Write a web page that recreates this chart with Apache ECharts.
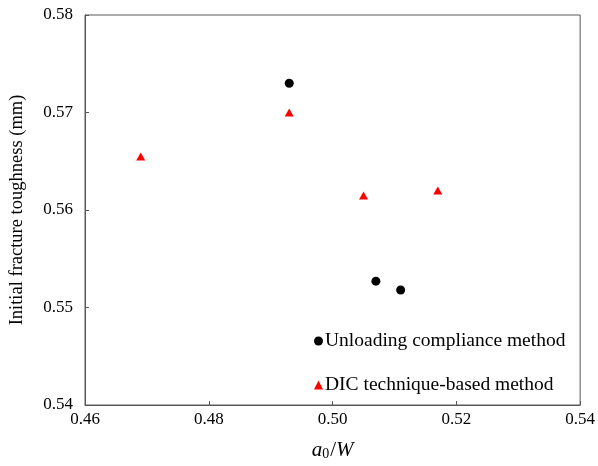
<!DOCTYPE html>
<html>
<head>
<meta charset="utf-8">
<script src="https://cdn.jsdelivr.net/npm/echarts@6/dist/echarts.min.js"></script>
<style>html,body{margin:0;padding:0;background:#fff}#c{width:598px;height:466px}</style>
</head>
<body>
<div id="c"></div>
<script>
// Data
var unloadingX = [0.493, 0.507, 0.511];
var unloadingY = [0.573, 0.5527, 0.5518];
var dicX = [0.469, 0.493, 0.505, 0.517];
var dicY = [0.5655, 0.570, 0.5615, 0.562];
var xTicks = [0.46, 0.48, 0.50, 0.52, 0.54];
var yTicks = [0.54, 0.55, 0.56, 0.57, 0.58];
var seriesNames = ['Unloading compliance method', 'DIC technique-based method'];
var yTitle = 'Initial fracture toughness (mm)';

function pairs(xs, ys) { return xs.map(function (x, i) { return [x, ys[i]]; }); }

var FONT = '"Liberation Serif", "Times New Roman", serif';
var chart = echarts.init(document.getElementById('c'));
chart.setOption({
  animation: false,
  backgroundColor: '#fff',
  textStyle: { fontFamily: FONT },
  grid: { left: 84, right: 15, top: 15, bottom: 61, show: true, borderColor: '#595959', borderWidth: 1, backgroundColor: 'transparent' },
  legend: {
    orient: 'vertical', left: 309, top: 326,
    itemWidth: 9, itemHeight: 9, itemGap: 24,
    textStyle: { fontFamily: FONT, fontSize: 19.5, color: '#000', padding: [0, 0, 0, -3] },
    data: [
      { name: seriesNames[0], icon: 'circle' },
      { name: seriesNames[1], icon: 'triangle' }
    ]
  },
  xAxis: {
    type: 'value', min: xTicks[0], max: xTicks[xTicks.length - 1], interval: 0.02,
    axisLine: { lineStyle: { color: '#595959', width: 1 } },
    axisTick: { inside: true, length: 4, lineStyle: { color: '#595959' } },
    splitLine: { show: false },
    axisLabel: { color: '#000', fontSize: 17, fontFamily: FONT, margin: 6,
      formatter: function (v) { return v.toFixed(2); } },
    name: '{i|a}{s|0}{n|/}{i|W}',
    nameLocation: 'middle', nameGap: 34,
    nameTextStyle: {
      rich: {
        i: { fontFamily: FONT, fontStyle: 'italic', fontSize: 21, color: '#000' },
        s: { fontFamily: FONT, fontSize: 14, color: '#000', verticalAlign: 'bottom', padding: [8, 1, 0, 0] },
        n: { fontFamily: FONT, fontSize: 21, color: '#000' }
      }
    }
  },
  yAxis: {
    type: 'value', min: yTicks[0], max: yTicks[yTicks.length - 1], interval: 0.01,
    axisLine: { show: true, lineStyle: { color: '#595959', width: 1 } },
    axisTick: { show: true, inside: true, length: 4, lineStyle: { color: '#595959' } },
    splitLine: { show: false },
    axisLabel: { color: '#000', fontSize: 17, fontFamily: FONT, margin: 12,
      formatter: function (v) { return v.toFixed(2); } },
    name: yTitle, nameLocation: 'middle', nameGap: 58,
    nameTextStyle: { fontFamily: FONT, fontSize: 18.5, color: '#000' }
  },
  series: [
    { name: seriesNames[0], type: 'scatter', symbol: 'circle', symbolSize: 9,
      itemStyle: { color: '#000', opacity: 1 }, data: pairs(unloadingX, unloadingY) },
    { name: seriesNames[1], type: 'scatter', symbol: 'triangle', symbolSize: [9, 8],
      itemStyle: { color: '#ff0000', opacity: 1 }, data: pairs(dicX, dicY) }
  ]
});
</script>
</body>
</html>
